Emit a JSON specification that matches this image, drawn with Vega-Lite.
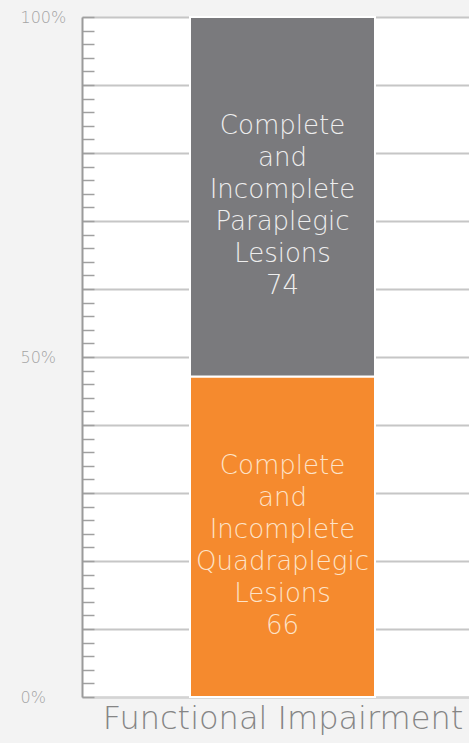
{
  "$schema": "https://vega.github.io/schema/vega-lite/v6.json",
  "width": 401,
  "height": 680,
  "autosize": {"type": "none"},
  "padding": {"left": 82, "top": 17, "right": 0, "bottom": 46},
  "background": "#f3f3f3",
  "config": {"view": {"fill": "#ffffff", "stroke": null}, "font": "DejaVu Sans"},
  "data": {
    "values": [
      {"category": "Functional Impairment", "group": "Complete and Incomplete Quadraplegic Lesions", "label": "Complete\nand\nIncomplete\nQuadraplegic\nLesions\n66", "count": 66, "order": 1},
      {"category": "Functional Impairment", "group": "Complete and Incomplete Paraplegic Lesions", "label": "Complete\nand\nIncomplete\nParaplegic\nLesions\n74", "count": 74, "order": 2}
    ]
  },
  "transform": [
    {"stack": "count", "groupby": ["category"], "sort": [{"field": "order"}], "offset": "normalize", "as": ["y0", "y1"]},
    {"calculate": "(datum.y0 + datum.y1) / 2", "as": "ymid"}
  ],
  "encoding": {
    "x": {
      "field": "category",
      "type": "nominal",
      "axis": {
        "labels": false,
        "ticks": false,
        "domain": true,
        "domainColor": "#d4d4d4",
        "domainWidth": 2,
        "title": "Functional Impairment",
        "titleFont": "DejaVu Sans",
        "titleFontWeight": 200,
        "titleFontSize": 32,
        "titleColor": "#858585",
        "titlePadding": 6
      }
    }
  },
  "layer": [
    {
      "mark": {"type": "bar", "width": 185, "stroke": "#ffffff", "strokeWidth": 2},
      "encoding": {
        "y": {
          "field": "y0",
          "type": "quantitative",
          "scale": {"domain": [0, 1], "nice": false},
          "axis": {
            "values": [0, 0.02, 0.04, 0.06, 0.08, 0.1, 0.12, 0.14, 0.16, 0.18, 0.2, 0.22, 0.24, 0.26, 0.28, 0.3, 0.32, 0.34, 0.36, 0.38, 0.4, 0.42, 0.44, 0.46, 0.48, 0.5, 0.52, 0.54, 0.56, 0.58, 0.6, 0.62, 0.64, 0.66, 0.68, 0.7, 0.72, 0.74, 0.76, 0.78, 0.8, 0.82, 0.84, 0.86, 0.88, 0.9, 0.92, 0.94, 0.96, 0.98, 1],
            "tickCount": 200,
            "format": ".0%",
            "labelExpr": "datum.value == 0 || datum.value == 0.5 || datum.value == 1 ? datum.label : ''",
            "labelOverlap": false,
            "labelFlush": false,
            "labelAlign": "left",
            "labelBaseline": "middle",
            "labelPadding": 74,
            "labelColor": "#a4a4a4",
            "labelFontSize": 16,
            "labelFont": "DejaVu Sans",
            "labelFontWeight": 200,
            "tickSize": -12,
            "tickColor": "#a0a0a0",
            "tickWidth": 1.5,
            "domainColor": "#9a9a9a",
            "domainWidth": 2,
            "grid": true,
            "gridWidth": 2,
            "gridColor": {"condition": {"test": "abs(datum.value * 10 - round(datum.value * 10)) < 0.001", "value": "#c6c6c6"}, "value": "transparent"},
            "title": null
          }
        },
        "y2": {"field": "y1"},
        "color": {
          "field": "group",
          "type": "nominal",
          "scale": {"domain": ["Complete and Incomplete Quadraplegic Lesions", "Complete and Incomplete Paraplegic Lesions"], "range": ["#f58a2e", "#7a7a7d"]},
          "legend": null
        }
      }
    },
    {
      "mark": {"type": "text", "lineBreak": "\n", "lineHeight": 32, "fontSize": 26, "font": "DejaVu Sans", "fontWeight": 200, "baseline": "middle", "dy": -71},
      "encoding": {
        "y": {"field": "ymid", "type": "quantitative"},
        "text": {"field": "label"},
        "color": {
          "field": "group",
          "type": "nominal",
          "scale": {"domain": ["Complete and Incomplete Quadraplegic Lesions", "Complete and Incomplete Paraplegic Lesions"], "range": ["#fde3c8", "#eeeeee"]},
          "legend": null
        }
      }
    }
  ],
  "resolve": {"scale": {"color": "independent"}}
}
